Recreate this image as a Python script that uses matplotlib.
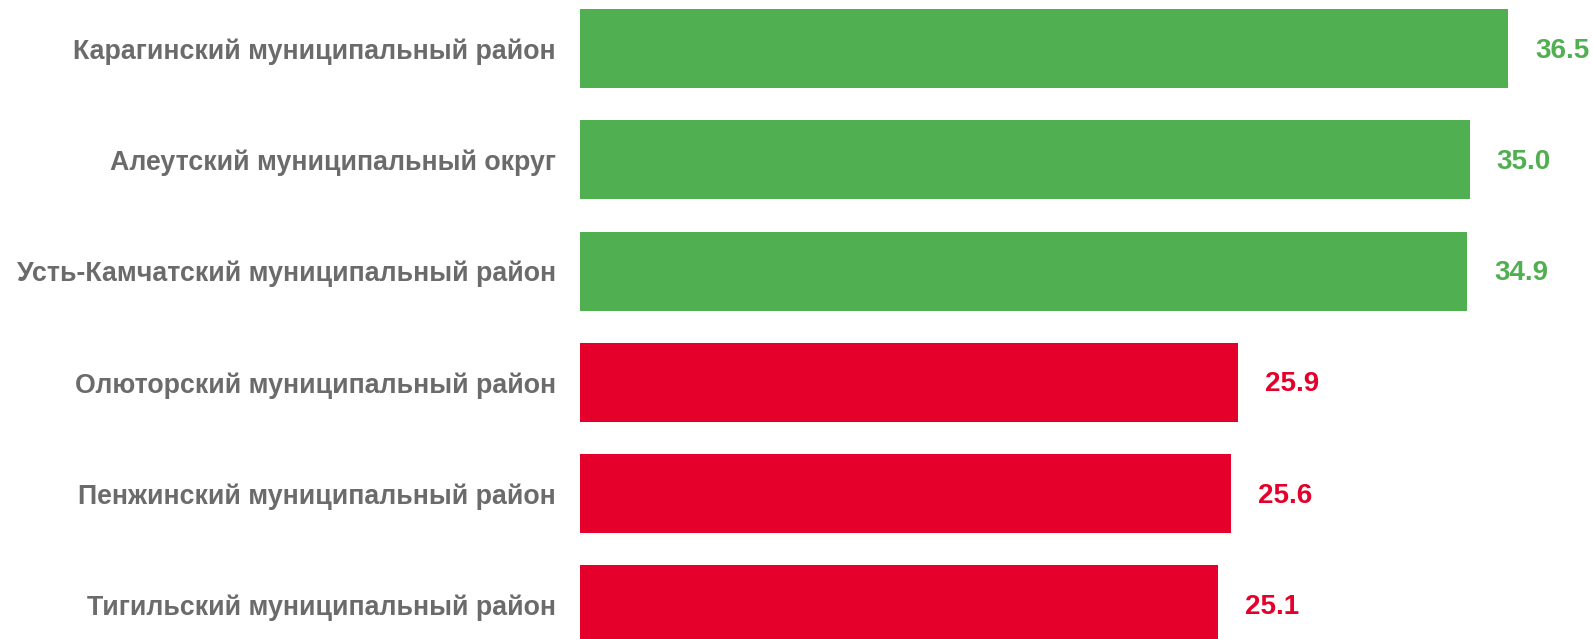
import matplotlib
matplotlib.use("Agg")
import matplotlib.pyplot as plt

categories = [
    "Карагинский муниципальный район",
    "Алеутский муниципальный округ",
    "Усть-Камчатский муниципальный район",
    "Олюторский муниципальный район",
    "Пенжинский муниципальный район",
    "Тигильский муниципальный район",
]
values = [36.5, 35.0, 34.9, 25.9, 25.6, 25.1]
groups = ["top", "top", "top", "bottom", "bottom", "bottom"]

GREEN = "#50AF50"
RED = "#E4002B"
GRAY = "#6B6B6B"
color_map = {"top": GREEN, "bottom": RED}

plt.rcParams["font.family"] = ["Liberation Sans", "DejaVu Sans"]

W, H, DPI = 1594, 639, 100
fig = plt.figure(figsize=(W / DPI, H / DPI), dpi=DPI)
left_px = 580
ax = fig.add_axes([left_px / W, 0, (W - left_px) / W, 1])

px_per_unit = 25.42
step_px = 111.3
first_center_px = 48.5
ax.set_xlim(0, (W - left_px) / px_per_unit)
ax.set_ylim((H - first_center_px) / step_px, -first_center_px / step_px)

pos = list(range(len(categories)))
colors = [color_map[g] for g in groups]
ax.barh(pos, values, height=0.71, color=colors, linewidth=0)

for p, v, c in zip(pos, values, colors):
    ax.annotate(f"{v:.1f}", xy=(v, p), xytext=(19.5, -1.5), textcoords="offset points",
                ha="left", va="center", fontsize=20, fontweight="bold", color=c)

ax.set_yticks(pos)
ax.set_yticklabels(categories, fontsize=19.3, fontweight="bold", color=GRAY)
ax.tick_params(axis="y", length=0, pad=17.3)
ax.set_xticks([])
for s in ax.spines.values():
    s.set_visible(False)

fig.savefig("out.png", dpi=DPI)
